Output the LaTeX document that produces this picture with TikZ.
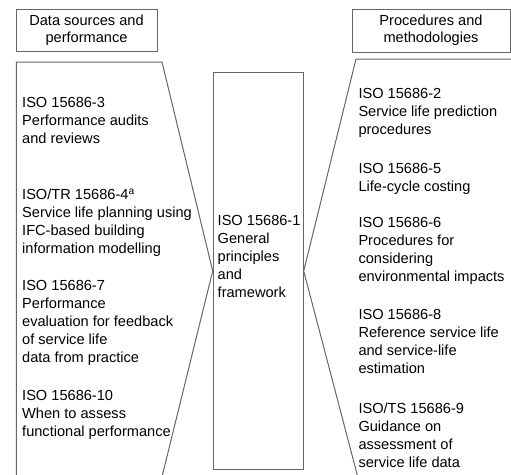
\documentclass[tikz,border=0pt]{standalone}
\usepackage{fontspec}
\setmainfont{Liberation Sans}
\usetikzlibrary{positioning}

\begin{document}
\begin{tikzpicture}[x=1pt, y=-1pt,
    head/.style={draw=black!60, line width=1pt, align=center, font=\fontsize{14.6}{17.3}\selectfont},
    part/.style={anchor=base west, align=left, inner sep=0pt, font=\fontsize{14.6}{18}\selectfont},
    outline/.style={draw=black!60, line width=1pt}]
    \useasboundingbox (0,0) rectangle (511,474);
    \clip (0,0) rectangle (511,474);
    % headers
    \node[head, minimum width=141pt, minimum height=42pt] (srcHead) at (86.5,30.5) {Data sources and\\performance};
    \node[head, minimum width=158pt, minimum height=43pt] (procHead) at (431,30.5) {Procedures and\\methodologies};
    % core standard in the middle (text nodes sit on the baseline of their last line)
    \node[outline, minimum width=90pt, minimum height=397pt, anchor=north west] (core) at (212.7,72) {};
    \node[part] (iso1) at (217.5,297.5) {ISO 15686-1\\General\\principles\\and\\framework};
    % left and right outlines pointing at the core
    \draw[outline] (16.3,480) -- (16.3,62) -- (162,62) -- (core.west) -- (161.2,480);
    \draw[outline] (520,59) -- (356,59) -- (core.east) -- (358.6,480);
    % data sources
    \node[part] (iso3) at (22,143) {ISO 15686-3\\Performance audits\\and reviews};
    \node[part] (iso4) at (22,253.3) {ISO/TR 15686-4\textsuperscript{a}\\Service life planning using\\IFC-based building\\information modelling};
    \node[part] (iso7) at (22,362.5) {ISO 15686-7\\Performance\\evaluation for feedback\\of service life\\data from practice};
    \node[part] (iso10) at (22,436) {ISO 15686-10\\When to assess\\functional performance};
    % procedures
    \node[part] (iso2) at (358.3,134.5) {ISO 15686-2\\Service life prediction\\procedures};
    \node[part] (iso5) at (358.3,191) {ISO 15686-5\\Life-cycle costing};
    \node[part] (iso6) at (358.3,281.5) {ISO 15686-6\\Procedures for\\considering\\environmental impacts};
    \node[part] (iso8) at (358.3,373) {ISO 15686-8\\Reference service life\\and service-life\\estimation};
    \node[part] (iso9) at (358.3,467) {ISO/TS 15686-9\\Guidance on\\assessment of\\service life data};
\end{tikzpicture}
\end{document}
